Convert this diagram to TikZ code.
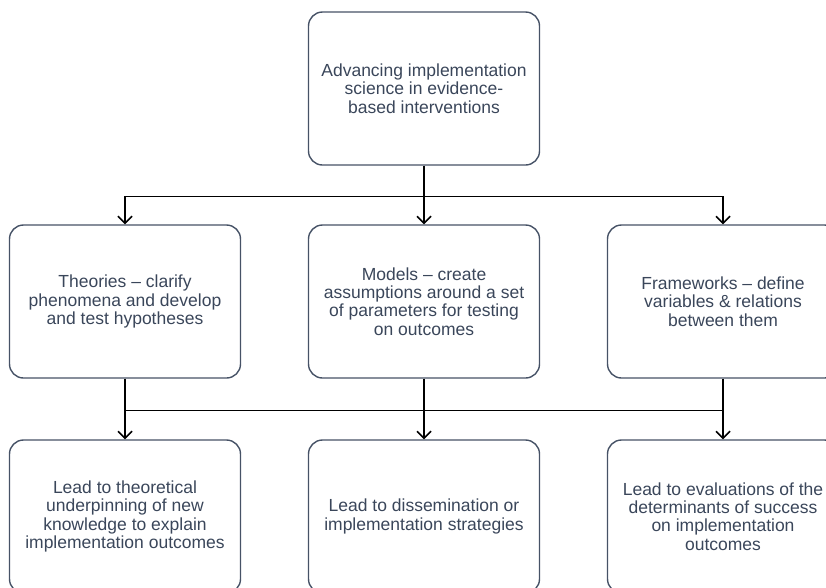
\documentclass[tikz,border=0pt]{standalone}
\usepackage{fontspec}
\setmainfont{Liberation Sans}
\usepackage{tikz}
\usetikzlibrary{arrows.meta,positioning}

\definecolor{boxLine}{RGB}{70,82,102}
\definecolor{boxText}{RGB}{58,70,90}

\begin{document}
\begin{tikzpicture}[x=1pt,y=-1pt,
  box/.style={draw=boxLine, line width=1.4pt, rounded corners=14pt,
    minimum width=231pt, minimum height=153pt, inner sep=0pt,
    align=center, text=boxText, font=\fontsize{17.5}{18.4}\selectfont},
  wire/.style={line width=1.5pt},
  link/.style={wire, -{Straight Barb[length=7pt,width=14pt]}}]
\useasboundingbox (0,0) rectangle (826,587);
\clip (0,0) rectangle (826,587);

% top level
\node[box] (aim) at (424,88.5) {Advancing implementation\\science in evidence-\\based interventions};

% second row
\node[box] (theo) at (125,301.5) {Theories -- clarify\\phenomena and develop\\and test hypotheses};
\node[box] (models) at (424,301.5) {Models -- create\\assumptions around a set\\of parameters for testing\\on outcomes};
\node[box] (frame) at (723,301.5) {Frameworks -- define\\variables \& relations\\between them};

% third row
\node[box] (lead1) at (125,516.5) {Lead to theoretical\\underpinning of new\\knowledge to explain\\implementation outcomes};
\node[box] (lead2) at (424,516.5) {Lead to dissemination or\\implementation strategies};
\node[box] (lead3) at (723,516.5) {Lead to evaluations of the\\determinants of success\\on implementation\\outcomes};

% fork below the top box
\draw[wire] (aim.south) -- ++(0,31) coordinate (fork);
\draw[link] (fork) -| (theo.north);
\draw[link] (fork) -- (models.north);
\draw[link] (fork) -| (frame.north);

% joining bar below the second row
\draw[wire] (theo.south) -- ++(0,32) coordinate (j1);
\draw[wire] (models.south) -- ++(0,32) coordinate (j2);
\draw[wire] (frame.south) -- ++(0,32) coordinate (j3);
\draw[wire] (j1) -- (j3);
\draw[link] (j1) -- (lead1.north);
\draw[link] (j2) -- (lead2.north);
\draw[link] (j3) -- (lead3.north);
\end{tikzpicture}
\end{document}
